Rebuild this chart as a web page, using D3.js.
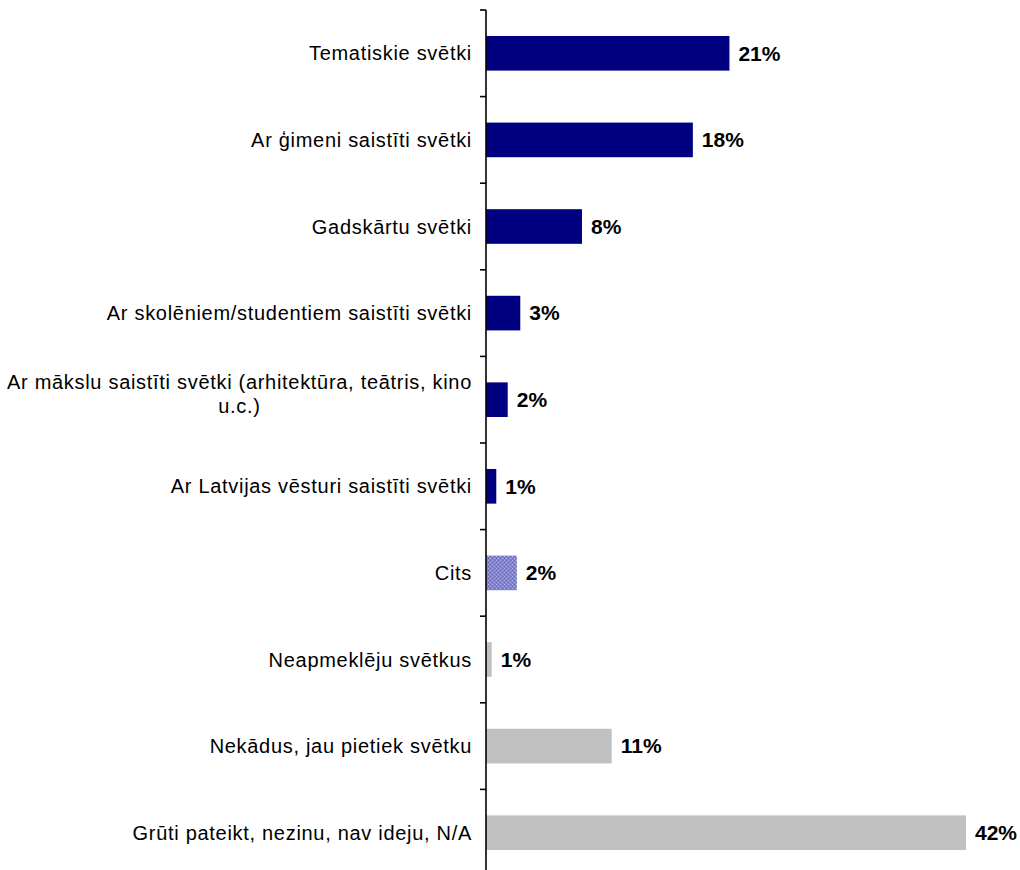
<!DOCTYPE html>
<html><head><meta charset="utf-8">
<script src="https://cdn.jsdelivr.net/npm/d3@7/dist/d3.min.js"></script>
<style>body{margin:0;background:#fff;}svg{display:block;}</style>
</head><body>
<svg id="chart" width="1020" height="870"></svg>
<script>
const categories = [
  "Tematiskie svētki",
  "Ar ģimeni saistīti svētki",
  "Gadskārtu svētki",
  "Ar skolēniem/studentiem saistīti svētki",
  "Ar mākslu saistīti svētki (arhitektūra, teātris, kino|u.c.)",
  "Ar Latvijas vēsturi saistīti svētki",
  "Cits",
  "Neapmeklēju svētkus",
  "Nekādus, jau pietiek svētku",
  "Grūti pateikt, nezinu, nav ideju, N/A"
];
const values = [21.3, 18.1, 8.4, 3.0, 1.9, 0.9, 2.7, 0.5, 11.0, 42.0];
const valueLabels = ["21%", "18%", "8%", "3%", "2%", "1%", "2%", "1%", "11%", "42%"];
const groups = ["main", "main", "main", "main", "main", "main", "other", "none", "none", "none"];

const svg = d3.select("#chart");
const defs = svg.append("defs");
const pat = defs.append("pattern").attr("id", "checker")
  .attr("width", 4).attr("height", 4).attr("patternUnits", "userSpaceOnUse");
pat.append("rect").attr("width", 4).attr("height", 4).attr("fill", "#8282d4");
pat.append("rect").attr("x", 0).attr("y", 0).attr("width", 1).attr("height", 1).attr("fill", "#b4b4ee");
pat.append("rect").attr("x", 2).attr("y", 2).attr("width", 1).attr("height", 1).attr("fill", "#b4b4ee");
pat.append("rect").attr("x", 2).attr("y", 0).attr("width", 1).attr("height", 1).attr("fill", "#6a6abc");
pat.append("rect").attr("x", 0).attr("y", 2).attr("width", 1).attr("height", 1).attr("fill", "#6a6abc");

const colors = {main: "#000080", other: "url(#checker)", none: "#c0c0c0"};

const x0 = 486;
const x = d3.scaleLinear().domain([0, 42]).range([x0, 966]);
const y = d3.scaleBand().domain(categories).range([10, 876]).paddingInner(0.6).paddingOuter(0.3);

svg.selectAll("rect.bar").data(categories).enter().append("rect")
  .attr("class", "bar")
  .attr("x", x0)
  .attr("y", d => y(d))
  .attr("width", (d, i) => x(values[i]) - x0)
  .attr("height", y.bandwidth())
  .attr("fill", (d, i) => colors[groups[i]]);

// axis
const step = (876 - 10) / categories.length;
const tickYs = d3.range(categories.length + 1).map(i => 10 + i * step);
svg.append("line").attr("x1", x0).attr("x2", x0).attr("y1", 10).attr("y2", 876)
  .attr("stroke", "#000").attr("stroke-width", 1.6);
svg.selectAll("line.tick").data(tickYs).enter().append("line")
  .attr("class", "tick")
  .attr("x1", x0 - 6).attr("x2", x0).attr("y1", d => d).attr("y2", d => d)
  .attr("stroke", "#000").attr("stroke-width", 1.6);

// category labels
const font = "'Liberation Sans', Arial, sans-serif";
const fs = 20, ls = 0.7;
categories.forEach((c, i) => {
  const lines = c.split("|");
  const cy = y(c) + y.bandwidth() / 2;
  const t = svg.append("text")
    .attr("font-family", font).attr("font-size", fs).attr("letter-spacing", ls).attr("fill", "#000");
  if (lines.length === 1) {
    t.attr("x", 472).attr("y", cy).attr("dy", "0.35em").attr("text-anchor", "end").text(c);
  } else {
    const tmp = svg.append("text").attr("font-family", font).attr("font-size", fs)
      .attr("letter-spacing", ls).text(lines[0]);
    const w = tmp.node().getComputedTextLength();
    tmp.remove();
    const cx = 472 - w / 2;
    const lh = 24;
    lines.forEach((ln, j) => {
      t.append("tspan").attr("x", cx).attr("text-anchor", "middle")
        .attr("y", cy - 6 + (j - (lines.length - 1) / 2) * lh).attr("dy", "0.35em").text(ln);
    });
  }
});

// value labels
svg.selectAll("text.val").data(categories).enter().append("text")
  .attr("class", "val")
  .attr("x", (d, i) => x(values[i]) + 9)
  .attr("y", d => y(d) + y.bandwidth() / 2)
  .attr("dy", "0.35em")
  .attr("font-family", font).attr("font-size", 21).attr("font-weight", "bold")
  .text((d, i) => valueLabels[i]);
</script>
</body></html>
